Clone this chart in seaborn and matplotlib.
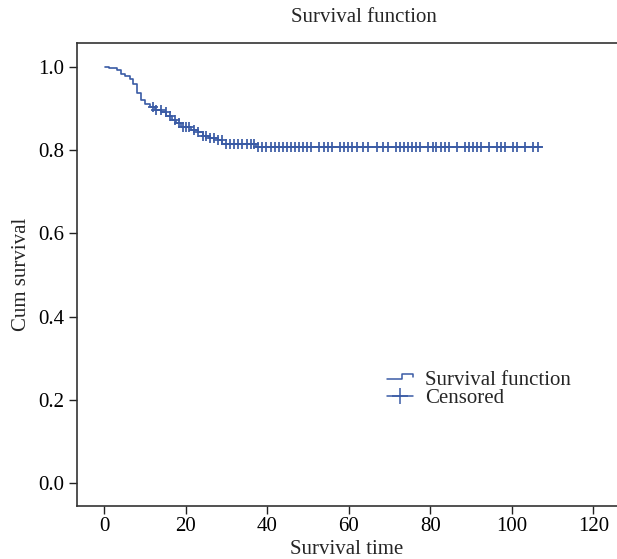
import numpy as np
import pandas as pd
import matplotlib.pyplot as plt
import seaborn as sns
from matplotlib.legend_handler import HandlerBase
from matplotlib.lines import Line2D

# Kaplan-Meier step values
step_time = [0.2, 1.2, 3.1, 4.2, 5.1, 6.2, 7.1, 8.1, 9.0, 10.0, 11.2, 12.4, 14.0,
             15.2, 16.5, 17.7, 18.9, 21.3, 22.9, 24.2, 25.8, 27.8, 29.0, 37.2, 107.3]
step_surv = [1.000, 0.997, 0.993, 0.982, 0.978, 0.971, 0.959, 0.936, 0.920, 0.910,
             0.902, 0.897, 0.890, 0.881, 0.873, 0.865, 0.855, 0.849, 0.842, 0.834,
             0.829, 0.823, 0.815, 0.808, 0.808]

# censored observation times
censor_time = [11.9, 12.8, 13.8, 15.1, 16.1, 17.3, 18.3, 19.3, 20.1, 20.9, 21.9, 23.0,
               24.2, 25.0, 26.0, 27.0, 27.8, 28.9, 29.9, 30.9, 31.9, 32.9, 33.9, 34.9,
               36.0, 36.8, 37.8, 38.8, 39.8, 40.8, 41.9, 42.8, 43.8, 44.9, 45.7, 46.7,
               47.7, 48.7, 49.7, 50.8, 52.7, 53.8, 54.8, 55.8, 57.9, 58.8, 59.9, 60.9,
               61.9, 63.5, 64.6, 66.8, 68.5, 69.6, 71.6, 72.6, 73.6, 74.6, 75.5, 76.5,
               77.5, 79.5, 80.6, 81.5, 82.6, 83.6, 84.5, 86.5, 88.4, 89.4, 90.5, 91.5,
               92.4, 94.4, 96.4, 97.4, 98.3, 100.3, 101.3, 103.3, 105.3, 106.3]

x_ticks = [0, 20, 40, 60, 80, 100, 120]
y_ticks = [0.0, 0.2, 0.4, 0.6, 0.8, 1.0]

blue = "#3a5ba5"
fs = 15

sns.set_style("ticks")
plt.rcParams["font.family"] = ["Liberation Serif", "DejaVu Serif"]

curve = pd.DataFrame({"time": step_time, "surv": step_surv})
idx = np.searchsorted(step_time, censor_time, side="right") - 1
marks = pd.DataFrame({"time": censor_time, "surv": np.array(step_surv)[idx]})

fig = plt.figure(figsize=(6.17, 5.59), dpi=100)
ax = fig.add_axes([0.1243, 0.0948, 0.8757, 0.8277])

sns.lineplot(data=curve, x="time", y="surv", drawstyle="steps-post",
             color=blue, linewidth=1.2, ax=ax)
sns.scatterplot(data=marks, x="time", y="surv", marker="+", s=45,
                color=blue, linewidth=1.25, ax=ax)


class StepHandler(HandlerBase):
    def create_artists(self, legend, orig_handle, xdescent, ydescent,
                       width, height, fontsize, trans):
        x0 = -xdescent
        y0 = -ydescent
        lo = y0 + height * 0.35
        hi = y0 + height * 0.75
        xs = [x0, x0 + width * 0.58, x0 + width * 0.58, x0 + width, x0 + width]
        ys = [lo, lo, hi, hi, y0 + height * 0.55]
        ln = Line2D(xs, ys, color=blue, linewidth=1.1, transform=trans)
        return [ln]


h_step = Line2D([], [], color=blue)
h_cens = Line2D([], [], color=blue, marker="+", markersize=11, linewidth=1.1,
                markeredgewidth=1.1)
ax.legend([h_step, h_cens], ["Survival function", "Censored"],
          handler_map={h_step: StepHandler()},
          loc="upper left", bbox_to_anchor=(0.574, 0.294), frameon=False,
          fontsize=fs, handlelength=1.25, handletextpad=0.58, labelspacing=-0.05,
          borderaxespad=0, borderpad=0)

ax.set_xlim(-6.77, 125.8)
ax.set_ylim(-0.0545, 1.056)
ax.set_xticks(x_ticks)
ax.set_yticks(y_ticks)
ax.set_yticklabels([f"{v:.1f}" for v in y_ticks])
ax.set_xlabel("Survival time", fontsize=fs, labelpad=3)
ax.set_ylabel("Cum survival", fontsize=fs, labelpad=5)
ax.set_title("Survival function", fontsize=fs, pad=15, x=0.532)
ax.tick_params(direction="out", length=5.5, width=1, labelsize=fs, colors="#222222",
               labelcolor="black")
ax.tick_params(axis="x", pad=2.5)
ax.tick_params(axis="y", pad=3.5)
for s in ax.spines.values():
    s.set_linewidth(1.2)
    s.set_color("#333333")
ax.spines["right"].set_visible(False)

fig.savefig("out.png", dpi=100)
